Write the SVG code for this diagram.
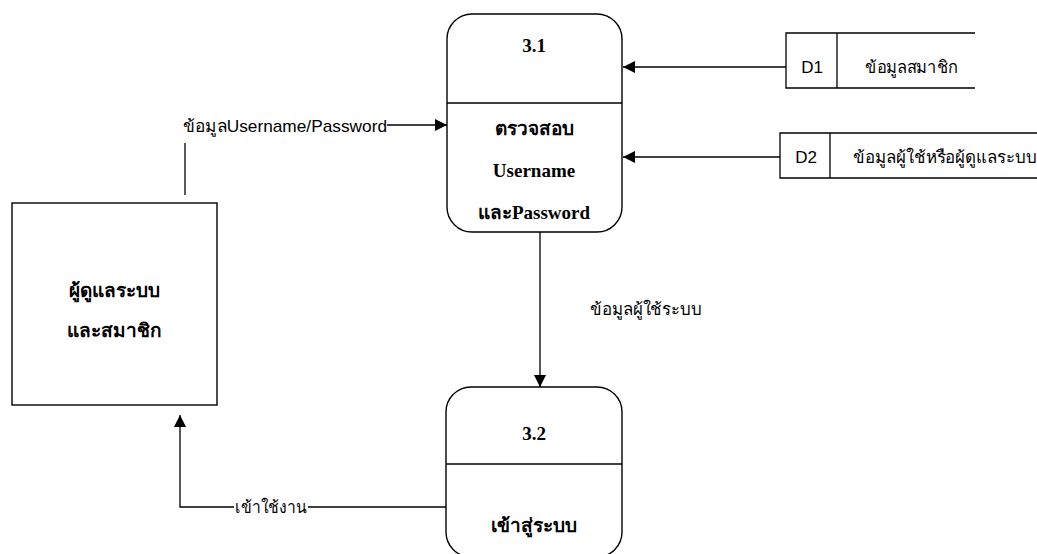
<svg xmlns="http://www.w3.org/2000/svg" width="1037" height="554" viewBox="0 0 1037 554">
<style>
.shape{fill:#fff;stroke:#000;stroke-width:1.4}
.line{fill:none;stroke:#000;stroke-width:1.3}
.ttl{font-family:"Liberation Serif","Noto Sans",serif;font-weight:bold;font-size:19px;text-anchor:middle;fill:#000}
.lbl{font-family:"Liberation Sans","Noto Sans",sans-serif;font-size:17px;fill:#000}
</style>
<defs>
<marker id="arr" viewBox="0 0 10 10" refX="10" refY="5" markerWidth="22" markerHeight="12" markerUnits="userSpaceOnUse" orient="auto"><path d="M0,0 L10,5 L0,10 Z" fill="#000"/></marker>
</defs>
<g id="connectors">
<path class="line" d="M185,195 V143"/>
<path class="line" d="M387,125 H447" marker-end="url(#arr)"/>
<text class="lbl" x="183" y="132" textLength="204" lengthAdjust="spacingAndGlyphs">ข้อมูลUsername/Password</text>
<path class="line" d="M786,67 H623" marker-end="url(#arr)"/>
<path class="line" d="M780,157 H623" marker-end="url(#arr)"/>
<path class="line" d="M540,232 V387" marker-end="url(#arr)"/>
<text class="lbl" x="590" y="315" textLength="112" lengthAdjust="spacingAndGlyphs">ข้อมูลผู้ใช้ระบบ</text>
<path class="line" d="M446,507 H180 V415" marker-end="url(#arr)"/>
<rect x="234" y="496" width="74" height="22" fill="#fff"/>
<text class="lbl" x="235" y="513" textLength="72" lengthAdjust="spacingAndGlyphs">เข้าใช้งาน</text>
</g>
<g id="entity">
<rect class="shape" x="12" y="203" width="205" height="202"/>
<text class="ttl" x="114" y="297">ผู้ดูแลระบบ</text>
<text class="ttl" x="114" y="337">และสมาชิก</text>
</g>
<g id="p31">
<rect class="shape" x="447" y="14" width="175" height="218" rx="25"/>
<path class="line" d="M447,103 H622"/>
<text class="ttl" x="534" y="52">3.1</text>
<text class="ttl" x="534" y="135">ตรวจสอบ</text>
<text class="ttl" x="534" y="177">Username</text>
<text class="ttl" x="534" y="219">และPassword</text>
</g>
<g id="p32">
<rect class="shape" x="446" y="387" width="176" height="170" rx="25"/>
<path class="line" d="M446,464 H622"/>
<text class="ttl" x="534" y="440">3.2</text>
<text class="ttl" x="534" y="532">เข้าสู่ระบบ</text>
</g>
<g id="d1">
<path class="line" d="M975,33 H786 V88 H975 M837,33 V88"/>
<text class="lbl" x="812" y="73" text-anchor="middle">D1</text>
<text class="lbl" x="865" y="73" textLength="93" lengthAdjust="spacingAndGlyphs">ข้อมูลสมาชิก</text>
</g>
<g id="d2">
<path class="line" d="M1037,133 H780 V178 H1037 M830,133 V178"/>
<text class="lbl" x="806" y="163" text-anchor="middle">D2</text>
<text class="lbl" x="853" y="163" textLength="184" lengthAdjust="spacingAndGlyphs">ข้อมูลผู้ใช้หรือผู้ดูแลระบบ</text>
</g>
</svg>
